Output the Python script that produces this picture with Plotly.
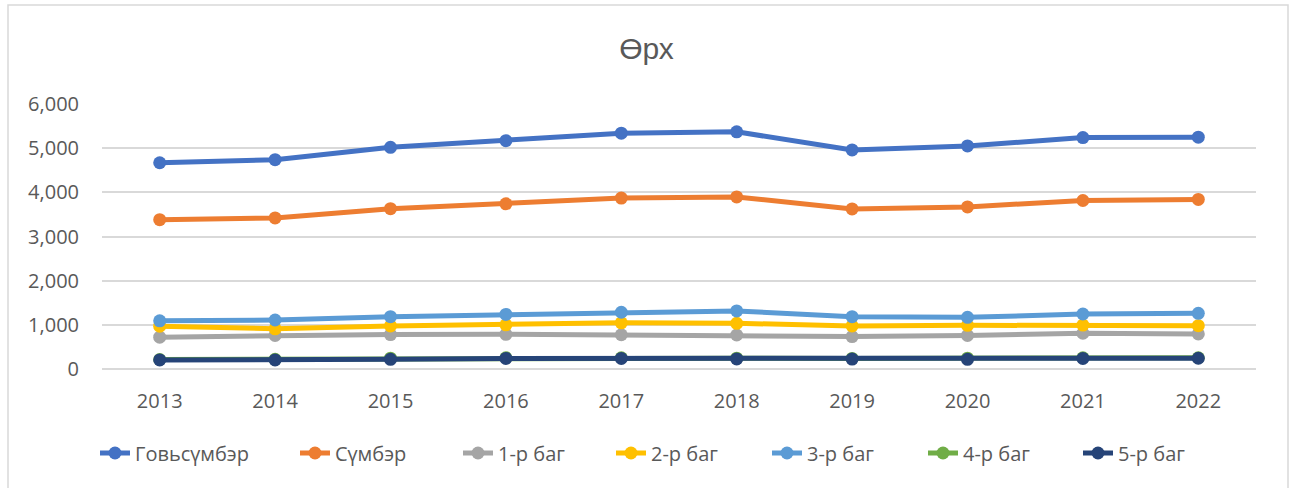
import plotly.graph_objects as go

years = ["2013", "2014", "2015", "2016", "2017", "2018", "2019", "2020", "2021", "2022"]
govsumber = [4670, 4740, 5020, 5170, 5340, 5370, 4960, 5050, 5240, 5250]
sumber = [3380, 3420, 3630, 3740, 3870, 3895, 3625, 3670, 3815, 3840]
bag1 = [720, 760, 780, 785, 775, 770, 735, 760, 810, 795]
bag2 = [970, 910, 975, 1000, 1045, 1035, 975, 990, 995, 980]
bag3 = [1090, 1110, 1185, 1235, 1285, 1315, 1185, 1170, 1245, 1260]
bag4 = [215, 220, 245, 255, 255, 245, 240, 245, 255, 255]
bag5 = [205, 205, 220, 240, 240, 228, 225, 220, 240, 243]

names = ["Говьсүмбэр", "Сүмбэр", "1-р баг", "2-р баг", "3-р баг", "4-р баг", "5-р баг"]
series = [govsumber, sumber, bag1, bag2, bag3, bag4, bag5]
colors = ["#4472C4", "#ED7D31", "#A5A5A5", "#FFC000", "#5B9BD5", "#70AD47", "#264478"]
legend_px = [97, 297, 460, 613, 769, 925, 1080]  # left edge of each legend entry (px)

PL, PW = 102, 1154

fig = go.Figure()
legend_layouts = {}
for i, (n, s, c) in enumerate(zip(names, series, colors)):
    key = "legend" if i == 0 else f"legend{i+1}"
    fig.add_trace(go.Scatter(
        x=years, y=s, name=n, mode="lines+markers",
        line=dict(color=c, width=5),
        marker=dict(color=c, size=13),
        legend=key,
    ))
    legend_layouts[key] = dict(
        orientation="h", x=(legend_px[i] - PL - 2) / PW, xanchor="left",
        y=-0.317, yanchor="middle", bgcolor="rgba(0,0,0,0)",
        font=dict(family="Open Sans, sans-serif", size=20, color="#595959"),
    )

fig.update_layout(
    width=1293, height=488,
    margin=dict(l=102, r=37, t=104, b=119),
    paper_bgcolor="white", plot_bgcolor="white",
    title=dict(text="Өрх", x=0.5, xanchor="center", y=0.9, yanchor="middle",
               font=dict(family="Liberation Sans, Arial", size=30, color="#595959")),
    font=dict(family="Open Sans, sans-serif", size=20, color="#595959"),
    xaxis=dict(type="category", range=[-0.5, 9.5], showgrid=False, showline=False,
               ticks="", ticklabelstandoff=18, tickfont=dict(size=20, color="#595959")),
    yaxis=dict(range=[0, 6000], dtick=1000, tickformat=",", showgrid=True,
               gridcolor="#D9D9D9", gridwidth=1.5, zeroline=True, zerolinecolor="#D9D9D9",
               zerolinewidth=1.5, showline=False, ticks="", ticklabelstandoff=22,
               tickfont=dict(size=20, color="#595959")),
    showlegend=True,
    **legend_layouts,
)

fig.add_shape(type="rect", xref="paper", yref="paper",
              x0=(8 - 102) / 1154, x1=(1288 - 102) / 1154,
              y0=(369 - 490) / 265, y1=(369 - 5) / 265,
              line=dict(color="#D9D9D9", width=1.5), fillcolor="rgba(0,0,0,0)", layer="below")

fig.write_html("out.html", config={"displayModeBar": False},
               post_script="document.body.style.margin='0';document.body.style.overflow='hidden';")
